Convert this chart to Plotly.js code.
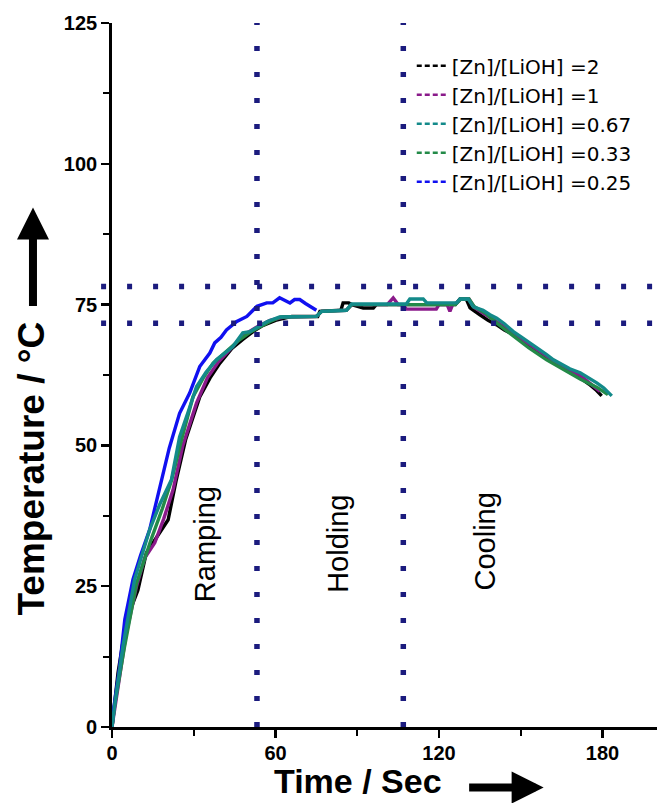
<!DOCTYPE html>
<html>
<head>
<meta charset="utf-8">
<script src="https://cdn.plot.ly/plotly-3.0.1.min.js"></script>
<style>html,body{margin:0;padding:0;background:#fff;}#chart{width:657px;height:803px;}</style>
</head>
<body>
<div id="chart"></div>
<script>
// ---- Data (time in s, temperature in °C) ----
const seriesNames = ["[Zn]/[LiOH] =2", "[Zn]/[LiOH] =1", "[Zn]/[LiOH] =0.67", "[Zn]/[LiOH] =0.33", "[Zn]/[LiOH] =0.25"];

const time_r2 = [0, 2.2, 5.3, 9.5, 12.6, 16, 20.6, 23.6, 27, 32.2, 36, 39.6, 44, 48, 52, 55, 60, 66, 75.5, 76.3, 84, 84.8, 86.9, 88, 92.2, 95.9, 97, 126, 127.7, 130, 131.4, 135, 138, 141.2, 144, 147.3, 150, 153.4, 156, 159.5, 162, 165.6, 168, 171.8, 175, 177.5, 179.7];
const temp_r2 = [0, 9.6, 19, 24.3, 30.9, 33.5, 36.8, 43.9, 51, 58.6, 62, 64.6, 67.2, 68.8, 70.3, 71.2, 72.2, 72.9, 72.9, 73.8, 74, 75.3, 75.3, 75, 74.4, 74.4, 75, 75, 76, 76, 74.4, 73.2, 72.2, 71.4, 70.5, 69.7, 68.7, 67.6, 66.6, 65.5, 64.7, 63.7, 63, 62, 60.9, 59.9, 58.8];

const time_r1 = [0, 1.5, 5, 9, 12, 15.7, 19, 22.4, 26, 31, 35, 39, 44, 48, 53, 58, 63, 75, 77, 86, 88, 101, 103.2, 105, 106.7, 108, 119, 120, 123, 124, 125, 126.5, 128, 131, 133, 137, 141, 144, 147, 150, 153, 156, 159.5, 162, 165.6, 168, 171.8, 175, 177, 179.1];
const temp_r1 = [0, 5, 16, 25, 30, 32.7, 37, 42.1, 50, 57.5, 62, 64.8, 67.5, 69.5, 71, 72.2, 72.8, 72.9, 73.8, 74, 75, 75, 76.2, 75, 75, 74.2, 74.2, 75, 75, 73.8, 75, 75.3, 76, 76, 74.5, 73.3, 72, 71, 70, 69, 67.9, 66.9, 65.8, 65, 64, 63.3, 62.4, 61.2, 60.5, 59.6];

const time_r033 = [0, 1, 4.5, 9, 14.5, 18.5, 21.9, 25.5, 29.7, 33.5, 37.1, 42, 46.9, 51, 54, 58, 62, 75, 77, 86, 88, 108, 126, 128, 131, 133, 137, 141, 147, 153, 159.5, 165.6, 171.8, 178, 182];
const temp_r033 = [0, 4, 14, 25.5, 33.5, 38.8, 43.9, 51, 58.6, 62, 64.6, 66.8, 68.8, 70.2, 71, 72, 72.8, 72.9, 73.8, 74, 75, 75, 75, 76, 76, 74.6, 73.5, 71.8, 69.5, 67.3, 65.2, 63.5, 61.8, 60.3, 59];

const time_r067 = [0, 1, 4, 8.3, 13.8, 17.5, 21.8, 24.8, 28, 31, 34.5, 38.3, 44.3, 48, 50.6, 53.2, 57, 61.5, 75, 76.9, 86, 87.9, 108, 109.3, 114.2, 115.5, 126.5, 127.7, 130.7, 132.6, 136.2, 138.7, 141.2, 144, 147.3, 150, 153.4, 156, 159.5, 162, 165.6, 168, 171.8, 175, 177.9, 180.5, 183.4];
const temp_r067 = [0, 4, 14.3, 26.2, 35, 39.5, 43.9, 51.5, 56, 60.4, 63, 65.2, 67.5, 70, 70.2, 70.9, 72, 72.8, 72.9, 73.8, 74, 75.1, 75.1, 76, 76, 75.3, 75.3, 76, 76, 74.6, 74, 73.2, 72.6, 71.6, 70.2, 69.3, 68.2, 67.2, 66.1, 65.2, 64.3, 63.6, 62.9, 62, 61.1, 60.2, 58.8];

const time_r025 = [0, 0.4, 2.8, 4.7, 7.7, 10.5, 13.8, 16, 18.1, 21, 24.8, 28.5, 32.2, 35.9, 37.7, 40, 42, 45.8, 49.5, 53.2, 56.8, 59, 61.5, 65.3, 67, 68.9, 71, 75];
const temp_r025 = [0, 2.5, 10.7, 19.1, 26.2, 30.5, 35, 39.5, 43.9, 49.5, 55.7, 59.3, 64, 66.4, 68.2, 69.2, 70.5, 72, 72.9, 74.7, 75.3, 75.3, 76.2, 75.3, 75.9, 75.9, 75.2, 74];

// reference markers
const stageBoundaries = [53.2, 106.9];   // s
const holdBand = [71.7, 78.2];           // °C
const stageLabels = ["Ramping", "Holding", "Cooling"];
const xTickVals = [0, 60, 120, 180];
const yTickVals = [0, 25, 50, 75, 100, 125];

const colors = ["#000000", "#8a1a8a", "#138a8a", "#238a48", "#1010f0"];
const seriesX = [time_r2, time_r1, time_r067, time_r033, time_r025];
const seriesY = [temp_r2, temp_r1, temp_r067, temp_r033, temp_r025];
const drawOrder = [0, 1, 3, 4, 2];

const traces = [];
drawOrder.forEach(i => {
  traces.push({x: seriesX[i], y: seriesY[i], type: 'scatter', mode: 'lines',
    line: {color: colors[i], width: 3.4}, showlegend: false, hoverinfo: 'skip'});
});
// legend entries (dashed samples)
seriesNames.forEach((n, i) => {
  traces.push({x: [null], y: [null], type: 'scatter', mode: 'lines', name: n,
    line: {color: colors[i], width: 2.5, dash: '5px,3px'}, showlegend: true});
});

const dotColor = '#1b1b7e';
const shapes = [];
stageBoundaries.forEach(v => shapes.push({type: 'line', xref: 'x', yref: 'y', x0: v, x1: v, y0: 0, y1: 125,
  line: {color: dotColor, width: 5.5, dash: '5px,21px'}}));
holdBand.forEach(v => shapes.push({type: 'line', xref: 'paper', yref: 'y', x0: -0.02, x1: 1, y0: v, y1: v,
  line: {color: dotColor, width: 5.5, dash: '5px,21px'}}));

const labelFont = {family: 'Liberation Sans, Arial', size: 29, color: '#000'};
const labelPos = [[34, 32.4], [82.9, 32.5], [137, 33]];
const annotations = stageLabels.map((s, i) => ({
  text: s, x: labelPos[i][0], y: labelPos[i][1], xref: 'x', yref: 'y', showarrow: false,
  xanchor: 'center', yanchor: 'middle', textangle: -90, font: labelFont
}));
const titleFont = {family: 'Liberation Sans, Arial', size: 37, weight: 'bold', color: '#000'};
// axis titles
annotations.push({text: 'Temperature / °C', xref: 'paper', yref: 'paper', x: -0.147, y: 0.367,
  xanchor: 'center', yanchor: 'middle', showarrow: false, textangle: -90, font: titleFont});
annotations.push({text: 'Time / Sec', xref: 'paper', yref: 'paper', x: 0.451, y: -0.0767,
  xanchor: 'center', yanchor: 'middle', showarrow: false,
  font: {family: 'Liberation Sans, Arial', size: 34, weight: 'bold', color: '#000'}});
// arrows
annotations.push({text: '', xref: 'paper', yref: 'paper', x: -0.145, y: 0.738, showarrow: true,
  ax: 0, ay: 100, arrowhead: 2, arrowwidth: 8, arrowsize: 0.8, arrowcolor: '#000'});
annotations.push({text: '', xref: 'paper', yref: 'paper', x: 0.792, y: -0.086, showarrow: true,
  ax: -76, ay: 0, arrowhead: 2, arrowwidth: 8, arrowsize: 0.8, arrowcolor: '#000'});

const tickFont = {family: 'Liberation Sans, Arial', size: 20, weight: 'bold', color: '#000'};
const layout = {
  width: 657, height: 803,
  margin: {l: 112, r: 0, t: 23, b: 76, pad: 0},
  paper_bgcolor: '#fff', plot_bgcolor: '#fff',
  showlegend: true,
  legend: {x: 0.55, y: 0.967, xanchor: 'left', yanchor: 'top', bgcolor: 'rgba(0,0,0,0)',
    font: {family: 'DejaVu Sans', size: 20, color: '#000'}, itemwidth: 30, tracegroupgap: 0},
  xaxis: {range: [0, 200], tickvals: xTickVals, showline: true, linecolor: '#000', linewidth: 2.8,
    ticks: 'outside', ticklen: 8, tickwidth: 2.5, tickcolor: '#000', showgrid: false, zeroline: false,
    ticklabelstandoff: -2,
    tickfont: tickFont, minor: {dtick: 30, tick0: 0, ticks: 'outside', ticklen: 6, tickwidth: 2, tickcolor: '#000', showgrid: false}},
  yaxis: {range: [0, 125], tickvals: yTickVals, showline: true, linecolor: '#000', linewidth: 2.8,
    ticks: 'outside', ticklen: 8, tickwidth: 2.5, tickcolor: '#000', showgrid: false, zeroline: false,
    tickfont: tickFont, minor: {dtick: 12.5, tick0: 0, ticks: 'outside', ticklen: 6, tickwidth: 2, tickcolor: '#000', showgrid: false}},
  shapes: shapes,
  annotations: annotations
};
Plotly.newPlot('chart', traces, layout, {displayModeBar: false, staticPlot: true});
</script>
</body>
</html>
